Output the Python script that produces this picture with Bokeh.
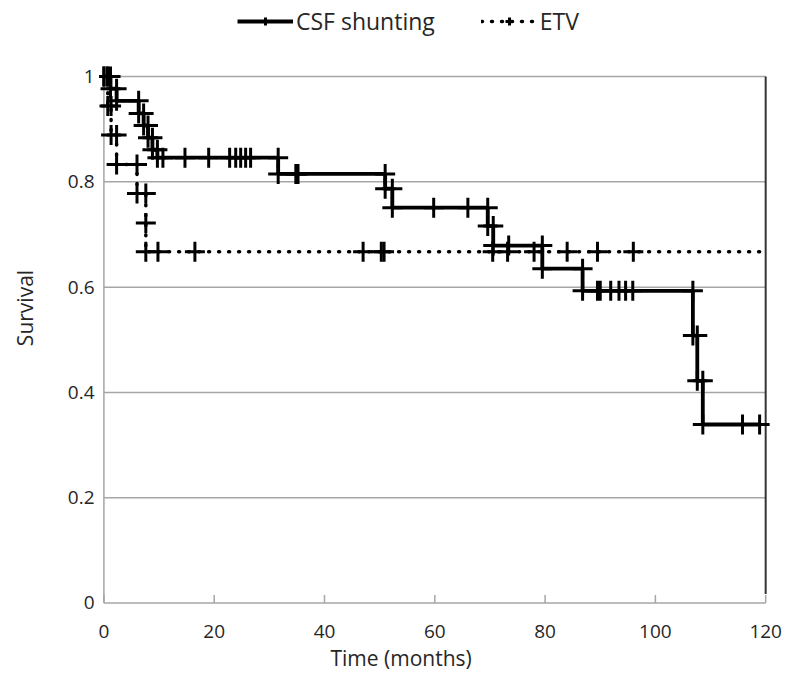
from bokeh.plotting import figure
from bokeh.models import Legend, LegendItem, FixedTicker, Title
from bokeh.embed import file_html
from bokeh.resources import INLINE

# ---------------- data ----------------
x_ticks = [0, 20, 40, 60, 80, 100, 120]
y_ticks = [0, 0.2, 0.4, 0.6, 0.8, 1.0]
y_tick_labels = ["0", "0.2", "0.4", "0.6", "0.8", "1"]

# CSF shunting: Kaplan-Meier step vertices (time in months, survival)
csf_t = [0, 0.6, 1.2, 1.2, 2.3, 2.3, 6.3, 6.3, 7.2, 7.2, 8.0, 8.0, 8.8, 8.8,
         9.7, 9.7, 10.7, 14.7, 19.0, 22.8, 23.9, 24.8, 25.7, 26.6, 31.6, 31.6,
         34.8, 35.2, 51.0, 51.0, 52.3, 52.3, 59.8, 66.0, 69.6, 69.6, 70.6, 70.6,
         73.4, 79.5, 79.5, 86.8, 86.8, 89.5, 90.0, 91.9, 93.4, 94.6, 95.9,
         106.8, 106.8, 107.6, 107.6, 108.6, 108.6, 115.8, 118.9]
csf_s = [1.0, 1.0, 1.0, 0.977, 0.977, 0.954, 0.954, 0.930, 0.930, 0.907, 0.907, 0.884, 0.884, 0.861,
         0.861, 0.846, 0.846, 0.846, 0.846, 0.846, 0.846, 0.846, 0.846, 0.846, 0.846, 0.815,
         0.815, 0.815, 0.815, 0.787, 0.787, 0.751, 0.751, 0.751, 0.751, 0.716, 0.716, 0.679,
         0.679, 0.679, 0.635, 0.635, 0.593, 0.593, 0.593, 0.593, 0.593, 0.593, 0.593,
         0.593, 0.508, 0.508, 0.422, 0.422, 0.339, 0.339, 0.339]

# ETV: step vertices with markers
etv_t = [0, 0.7, 0.7, 1.3, 1.3, 2.3, 2.3, 6.0, 6.0, 7.6, 7.6, 7.6, 9.8, 16.5,
         47.0, 50.3, 50.8, 70.5, 73.2, 78.0, 84.0, 89.5, 96.0]
etv_s = [1.0, 1.0, 0.944, 0.944, 0.889, 0.889, 0.833, 0.833, 0.778, 0.778, 0.722, 0.667, 0.667, 0.667,
         0.667, 0.667, 0.667, 0.667, 0.667, 0.667, 0.667, 0.667, 0.667]
etv_end_t = 120.0

FONT = "Open Sans"
TXT = "#262626"
GRID = "#a6a6a6"

p = figure(width=782, height=678, x_range=(-0.8, 121.6), y_range=(-0.02, 1.1407),
           output_backend="svg", toolbar_location=None,
           min_border_left=99, min_border_right=8, min_border_top=2, min_border_bottom=65)
p.outline_line_color = None
p.grid.visible = False
p.background_fill_color = "white"

# axes (labels only)
for ax in (p.xaxis[0], p.yaxis[0]):
    ax.axis_line_color = None
    ax.major_tick_line_color = None
    ax.minor_tick_line_color = None
    ax.major_label_text_font = FONT
    ax.major_label_text_font_size = "19px"
    ax.major_label_text_color = TXT
    ax.axis_label_text_font = FONT
    ax.axis_label_text_font_size = "21px"
    ax.axis_label_text_font_style = "normal"
    ax.axis_label_text_color = TXT

p.xaxis.ticker = FixedTicker(ticks=x_ticks)
p.yaxis.ticker = FixedTicker(ticks=y_ticks)
p.yaxis.major_label_overrides = {v: l for v, l in zip(y_ticks, y_tick_labels)}
p.yaxis.axis_label = "Survival"
p.xaxis.major_label_standoff = 5
p.yaxis.major_label_standoff = -1
p.yaxis.axis_label_standoff = 26

# x-axis title, placed left of centre as in the reference
xt = Title(text="Time (months)", align="left", offset=231, standoff=3,
           text_font=FONT, text_font_size="21px", text_font_style="normal", text_color=TXT)
p.add_layout(xt, "below")

xmin, xmax = x_ticks[0], x_ticks[-1]
# horizontal gridlines
gy = y_ticks[1:]
p.segment(x0=[xmin] * len(gy), y0=gy, x1=[xmax] * len(gy), y1=gy, line_color=GRID, line_width=1.5)
# axis lines
p.segment(x0=[xmin, xmin], y0=[y_ticks[0], y_ticks[0]], x1=[xmin, xmax], y1=[y_ticks[-1], y_ticks[0]],
          line_color=GRID, line_width=1.5)
# bottom ticks (inside)
p.segment(x0=x_ticks, y0=[0] * len(x_ticks), x1=x_ticks, y1=[0.015] * len(x_ticks),
          line_color=GRID, line_width=1.5)
# right border line
p.segment(x0=[xmax], y0=[0.017], x1=[xmax], y1=[y_ticks[-1]], line_color="#333333", line_width=2)

# ETV
etv_line = p.line(etv_t + [etv_end_t], etv_s + [etv_s[-1]], line_color="black", line_width=3.5,
                  line_dash="1 9", line_cap="round")
etv_pts = p.scatter(etv_t, etv_s, marker="cross", size=20, line_color="black", line_width=3)

# CSF
csf_line = p.line(csf_t, csf_s, line_color="black", line_width=3.8)
csf_pts = p.scatter(csf_t, csf_s, marker="cross", size=20, line_color="black", line_width=3)

legend = Legend(items=[LegendItem(label="CSF shunting", renderers=[csf_line, csf_pts]),
                       LegendItem(label="ETV", renderers=[etv_line, etv_pts])],
                orientation="horizontal", location=(138, 576),
                label_text_font=FONT, label_text_font_size="23px", label_text_color=TXT,
                glyph_width=56, glyph_height=20, label_standoff=3, spacing=46,
                padding=0, margin=0, border_line_color=None, background_fill_alpha=0)
p.add_layout(legend)

open("out.html", "w").write(file_html(p, INLINE))
